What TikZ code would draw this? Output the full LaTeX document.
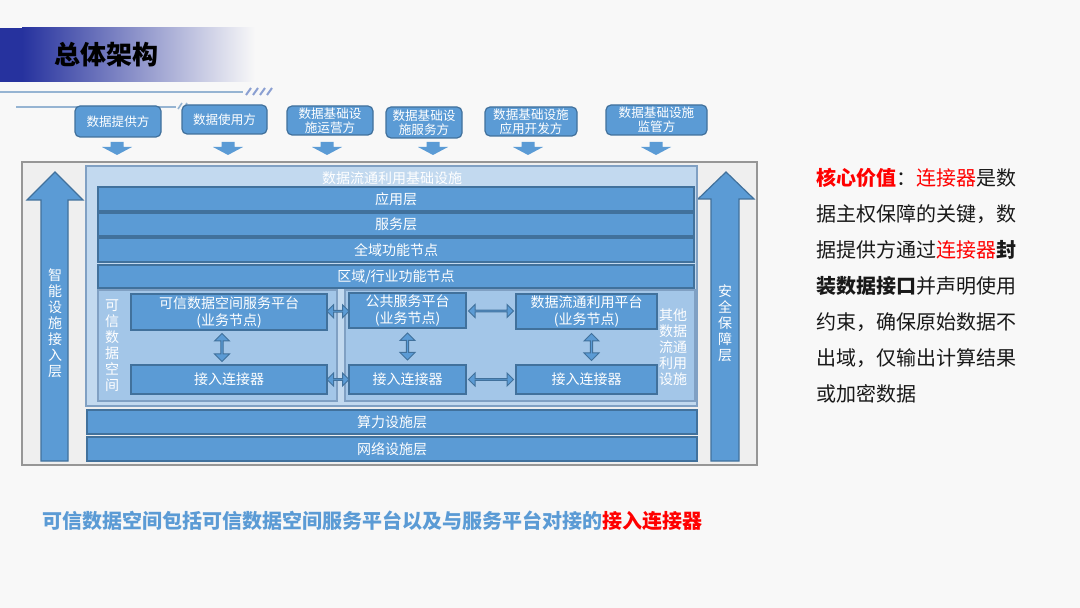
\documentclass[tikz,border=0pt]{standalone}
\usepackage{fontspec}
\newfontfamily\cjk{Noto Sans CJK SC}
\usetikzlibrary{calc,shapes.arrows}

\definecolor{bgcolor}{RGB}{248,248,248}
\definecolor{boxblue}{RGB}{91,155,213}
\definecolor{boxline}{RGB}{65,113,156}
\definecolor{panelblue}{RGB}{194,217,239}
\definecolor{subblue}{RGB}{163,198,232}
\definecolor{panelline}{RGB}{128,160,195}
\definecolor{framebg}{RGB}{239,239,239}
\definecolor{frameline}{RGB}{150,150,150}
\definecolor{bannerblue}{RGB}{38,50,158}
\definecolor{decoline}{RGB}{150,180,210}
\definecolor{slashblue}{RGB}{90,120,190}
\definecolor{hotred}{RGB}{255,0,0}

\begin{document}
\begin{tikzpicture}[
		% one unit = one pixel of the 1080x608 slide
		x=0.5pt, y=-0.5pt,
		font=\cjk,
		cell/.style args={#1/#2/#3/#4}{at={({(#1+#3)/2},{(#2+#4)/2})},
			minimum width={(#3-#1)*0.5pt}, minimum height={(#4-#2)*0.5pt}},
		bar/.style={draw=boxline, fill=boxblue, line width=0.6pt, inner sep=0pt, text=white, align=center, font=\cjk\fontsize{7pt}{8.5pt}\selectfont},
		srcbox/.style={bar, rounded corners=2.5pt, font=\cjk\fontsize{6.3pt}{7pt}\selectfont},
		panel/.style={draw=panelline, fill=panelblue, line width=0.6pt, inner sep=0pt},
		vtext/.style={text=white, inner sep=0pt, align=center, font=\cjk\fontsize{7pt}{8pt}\selectfont},
		dblarrow/.style={double arrow, draw=boxline, fill=boxblue, line width=0.5pt, inner sep=0pt, minimum width=6.5pt, double arrow head extend=1.6pt}
		]
		
		\fill[bgcolor] (0,0) rectangle (1080,608);
		\useasboundingbox (0,0) rectangle (1080,608);
		
		% ==========================================
		% 1. Title banner
		% ==========================================
		\fill[bannerblue] (0,28) rectangle (22,82);
		\shade[left color=bannerblue, right color=bgcolor] (22,28) rectangle (255,82);
		\node[anchor=west, inner sep=0pt, font=\cjk\bfseries\fontsize{13pt}{15pt}\selectfont] (title) at (54,55) {总体架构};
		
		\draw[decoline, line width=0.7pt] (0,92) -- (243,92);
		\foreach \s in {0,...,3}
			\draw[slashblue!70, line width=1pt] (246+\s*7,95) -- (251+\s*7,88);
		\draw[decoline, line width=0.6pt] (16,107) -- (176,107);
		\foreach \s in {0,1}
			\draw[decoline, line width=0.8pt] (178+\s*5,109) -- (182+\s*5,103);
		
		% ==========================================
		% 2. Participants on top
		% ==========================================
		\node[srcbox, cell=75/106/161/137] (src1) {数据提供方};
		\node[srcbox, cell=182/105/267/134] (src2) {数据使用方};
		\node[srcbox, cell=287/106/373/135] (src3) {数据基础设\\施运营方};
		\node[srcbox, cell=386/107/462/138] (src4) {数据基础设\\施服务方};
		\node[srcbox, cell=485/107/577/136] (src5) {数据基础设施\\应用开发方};
		\node[srcbox, cell=606/105/707/135] (src6) {数据基础设施\\监管方};
		
		% Down arrows
		\foreach \cx in {117,228,327,433,528,656}
			\fill[boxblue] (\cx-6.5,142) -- (\cx+6.5,142) -- (\cx+6.5,147) -- (\cx+15,147)
			-- (\cx,155) -- (\cx-15,147) -- (\cx-6.5,147) -- cycle;
		
		% ==========================================
		% 3. Outer frame and side arrows
		% ==========================================
		\node[draw=frameline, fill=framebg, line width=0.6pt, inner sep=0pt, cell=22/162/757/465] (frame) {};
		
		\draw[boxline, fill=boxblue, line width=0.6pt]
		(41,461) -- (41,200) -- (27,200) -- (55,172) -- (83,200) -- (68,200) -- (68,461) -- cycle;
		\node[vtext] (access) at (55,323) {智\\能\\设\\施\\接\\入\\层};
		
		\draw[boxline, fill=boxblue, line width=0.6pt]
		(711,461) -- (711,199) -- (698,199) -- (726,172) -- (754,199) -- (739,199) -- (739,461) -- cycle;
		\node[vtext] (security) at (725,323) {安\\全\\保\\障\\层};
		
		% ==========================================
		% 4. Data circulation infrastructure
		% ==========================================
		\node[panel, cell=86/166/697/406] (infra) {};
		\node[vtext] (infratitle) at (392,178) {数据流通利用基础设施};
		
		\node[bar, cell=98/187/694/211] (app) {应用层};
		\node[bar, cell=98/213/694/236] (svc) {服务层};
		\node[bar, cell=98/238/694/262] (glob) {全域功能节点};
		\node[bar, cell=98/265/694/288] (reg) {区域/行业功能节点};
		
		% Trusted data space
		\node[panel, fill=subblue, cell=98/290/337/401] (tds) {};
		\node[vtext] (tdslabel) at (112,346) {可\\信\\数\\据\\空\\间};
		\node[bar, cell=131/294/327/330] (tsp) {可信数据空间服务平台\\(业务节点)};
		\node[bar, cell=131/365/327/394] (tc1) {接入连接器};
		
		% Other facilities
		\node[panel, fill=subblue, cell=345/290/695/401] (other) {};
		\node[vtext] (otherlabel) at (673,347) {其他\\数据\\流通\\利用\\设施};
		\node[bar, cell=349/293/466/328] (pub) {公共服务平台\\(业务节点)};
		\node[bar, cell=349/365/466/394] (pc) {接入连接器};
		\node[bar, cell=516/294/657/329] (dp) {数据流通利用平台\\(业务节点)};
		\node[bar, cell=516/365/657/394] (dc) {接入连接器};
		
		% Links
		\node[dblarrow, minimum height=11pt] (l1) at ($(tsp.east)!0.5!(pub.west)$) {};
		\node[dblarrow, minimum height=11pt] (l2) at ($(tc1.east)!0.5!(pc.west)$) {};
		\node[dblarrow, minimum height=22.5pt] (l3) at ($(pub.east)!0.5!(dp.west)$) {};
		\node[dblarrow, minimum height=22.5pt] (l4) at ($(pc.east)!0.5!(dc.west)$) {};
		\node[dblarrow, shape border rotate=90, minimum width=7.5pt, minimum height=14pt, xshift=-3.5pt] (l5) at ($(tsp.south)!0.5!(tc1.north)$) {};
		\node[dblarrow, shape border rotate=90, minimum width=7.5pt, minimum height=13.5pt] (l6) at ($(pub.south)!0.5!(pc.north)$) {};
		\node[dblarrow, shape border rotate=90, minimum width=7.5pt, minimum height=13.5pt, xshift=2.5pt] (l7) at ($(dp.south)!0.5!(dc.north)$) {};
		
		% ==========================================
		% 5. Lower layers
		% ==========================================
		\node[bar, cell=87/410/697/434] (comp) {算力设施层};
		\node[bar, cell=87/437/697/461] (net) {网络设施层};
		
		% ==========================================
		% 6. Notes
		% ==========================================
		\node[anchor=north west, align=left, inner sep=0pt, text=black!90, font=\cjk\fontsize{10pt}{18pt}\selectfont] (value) at (816,168)
		{{\color{hotred}\bfseries 核心价值}：{\color{hotred}连接器}是数\\
			据主权保障的关键，数\\
			据提供方通过{\color{hotred}连接器}{\bfseries 封}\\
			{\bfseries 装数据接口}并声明使用\\
			约束，确保原始数据不\\
			出域，仅输出计算结果\\
			或加密数据};
		
		\node[anchor=west, inner sep=0pt, font=\cjk\bfseries\fontsize{10pt}{12pt}\selectfont] (summary) at (42,521)
		{{\color{boxblue}可信数据空间包括可信数据空间服务平台以及与服务平台对接的}{\color{hotred}接入连接器}};
		
	\end{tikzpicture}
\end{document}
